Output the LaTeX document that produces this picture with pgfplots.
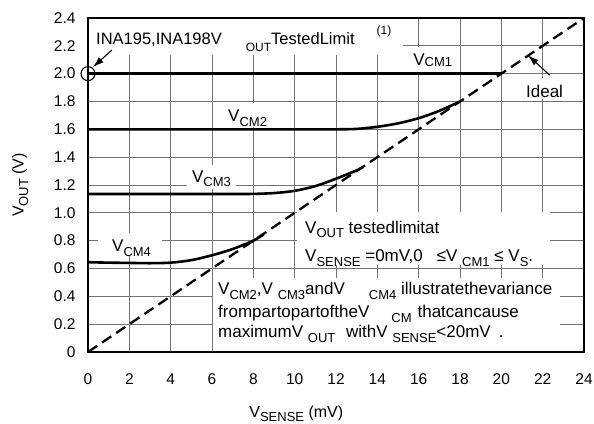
\documentclass[border=0pt]{standalone}
\usepackage{fontspec}
\setmainfont{Liberation Sans}
\usepackage{pgfplots}
\pgfplotsset{compat=1.18}
\usetikzlibrary{arrows.meta}
\newcommand{\sbx}[1]{\raisebox{-4.5pt}{\fontsize{13}{13}\selectfont #1}}
\newcommand{\fa}{\fontsize{17}{17}\selectfont}
\begin{document}
\begin{tikzpicture}
\begin{axis}[
  name=ax,
  scale only axis, width=496pt, height=334pt,
  xmin=0, xmax=24, ymin=0, ymax=2.4,
  xtick={0,2,4,6,8,10,12,14,16,18,20,22,24},
  ytick={0,0.2,0.4,0.6,0.8,1.0,1.2,1.4,1.6,1.8,2.0,2.2,2.4},
  yticklabels={0,0.2,0.4,0.6,0.8,1.0,1.2,1.4,1.6,1.8,2.0,2.2,2.4},
  /pgf/number format/assume math mode=true,
  tick label style={font=\fontsize{15.5}{15.5}\selectfont},
  yticklabel style={xshift=-9pt},
  xticklabel style={yshift=-18pt},
  xmajorgrids, ymajorgrids,
  major grid style={draw=black!55, line width=0.9pt},
  axis line style={line width=2.6pt},
  major tick length=0pt,
  xlabel={V\raisebox{-4pt}{\fontsize{13}{13}\selectfont SENSE} (mV)}, ylabel={V\sbx{OUT} (V)},
  label style={font=\fontsize{16}{16}\selectfont},
  xlabel style={at={(axis description cs:0.42,-0.195)}, anchor=base},
  ylabel style={at={(axis description cs:-0.137,0.5)}, anchor=center},
  clip=false,
]
% white boxes behind annotations
\fill[white] (axis cs:0.05,2.134) rectangle (axis cs:15.24,2.39);
\fill[white] (axis cs:15.24,2.015) rectangle (axis cs:17.76,2.19);
\fill[white] (axis cs:6.39,1.615) rectangle (axis cs:8.95,1.79);
\fill[white] (axis cs:4.79,1.17) rectangle (axis cs:7.16,1.344);
\fill[white] (axis cs:0.484,0.697) rectangle (axis cs:3.58,0.855);
\fill[white] (axis cs:20.9,1.815) rectangle (axis cs:23.3,1.97);
\fill[white] (axis cs:10.11,0.628) rectangle (axis cs:22.35,1.008);
\fill[white] (axis cs:6.05,0.0) rectangle (axis cs:22.84,0.532);

% Ideal
\addplot[black, line width=2.3pt, dash pattern=on 11pt off 6pt] coordinates {(0,0) (24,2.4)};
% VCM1
\addplot[black, line width=2.8pt] coordinates {(0,2.0) (20,2.0)};
% VCM2
\addplot[black, line width=2.6pt, smooth, tension=0.5] coordinates {
(0,1.6) (10,1.6) (11,1.6) (12,1.6) (13,1.603) (14,1.618) (15,1.643) (16,1.68) (17,1.733) (18,1.80)};
% VCM3
\addplot[black, line width=2.6pt, smooth, tension=0.5] coordinates {
(0,1.135) (6,1.135) (7,1.135) (8,1.136) (9,1.142) (10,1.158) (11,1.192) (12,1.245) (13,1.305) (13.3,1.33)};
% VCM4
\addplot[black, line width=2.6pt, smooth, tension=0.5] coordinates {
(0,0.645) (1,0.642) (2,0.64) (3,0.638) (4,0.642) (5,0.66) (6,0.695) (7,0.74) (8,0.80) (8.5,0.845)};

% frame on top
\draw[line width=2.6pt] (rel axis cs:0,0) rectangle (rel axis cs:1,1);

% circle and arrows
\draw[line width=1.1pt] (axis cs:0,2.0) circle[radius=7pt];
\draw[line width=1.1pt, -{Latex[length=11pt,width=7pt]}] (axis cs:1.16,2.17) -- (axis cs:0.24,2.047);
\draw[line width=1.1pt, -{Latex[length=11pt,width=7pt]}] (axis cs:22.35,1.988) -- (axis cs:21.29,2.132);

% labels
\node[anchor=base west, inner sep=0pt, font=\fontsize{16.5}{16.5}\selectfont] at (axis cs:0.387,2.206)
  {INA195,INA198V\hspace{24pt}\raisebox{-7pt}{\fontsize{12}{12}\selectfont OUT}TestedLimit\hspace{22pt}\raisebox{10pt}{\fontsize{12}{12}\selectfont (1)}};
\node[anchor=base west, inner sep=0pt, font=\fa] at (axis cs:15.73,2.062) {V\raisebox{-1pt}{\fontsize{13}{13}\selectfont CM1}};
\node[anchor=base west, inner sep=0pt, font=\fa] at (axis cs:6.774,1.655) {V\sbx{CM2}};
\node[anchor=base west, inner sep=0pt, font=\fa] at (axis cs:5.03,1.2215) {V\sbx{CM3}};
\node[anchor=base west, inner sep=0pt, font=\fa] at (axis cs:1.161,0.7186) {V\sbx{CM4}};
\node[anchor=base west, inner sep=0pt, font=\fa] at (axis cs:21.19,1.832) {Ideal};

\node[anchor=base west, inner sep=0pt, font=\fa] at (axis cs:10.5,0.855) {V\sbx{OUT} testedlimitat};
\node[anchor=base west, inner sep=0pt, font=\fa] at (axis cs:10.5,0.647) {V\sbx{SENSE} =0mV,0\hspace{14pt}≤V \sbx{CM1} ≤ V\sbx{S}.};
\node[anchor=base west, inner sep=0pt, font=\fa] at (axis cs:6.29,0.4096) {V\sbx{CM2},V \sbx{CM3}andV\hspace{24pt}\sbx{CM4} illustratethevariance};
\node[anchor=base west, inner sep=0pt, font=\fa] at (axis cs:6.29,0.2443) {frompartopartoftheV\hspace{22pt}\sbx{CM}\hspace{6pt}thatcancause};
\node[anchor=base west, inner sep=0pt, font=\fa] at (axis cs:6.29,0.1006) {maximumV \sbx{OUT} \hspace{6pt}withV \sbx{SENSE}<20mV\hspace{8pt}.};
\end{axis}
\pgfresetboundingbox
\path (ax.south west) ++(-88pt,-72pt) coordinate (bl);
\path (ax.north east) ++(10pt,18pt) coordinate (tr);
\useasboundingbox (bl) rectangle (tr);
\end{tikzpicture}
\end{document}
